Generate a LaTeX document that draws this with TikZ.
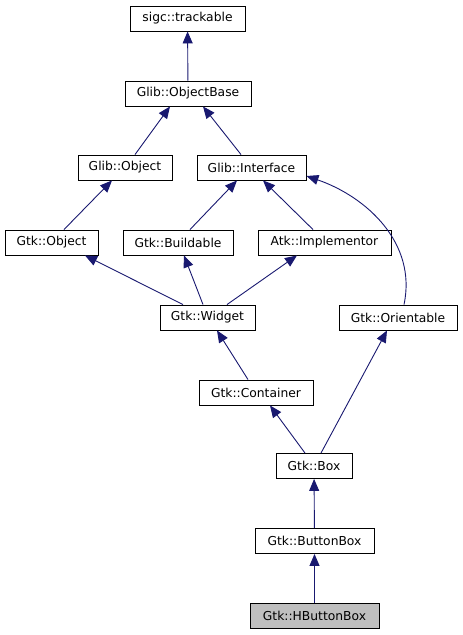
\documentclass[tikz,border=0pt]{standalone}
\usepackage{fontspec}
\setmainfont{DejaVu Sans}
\usepackage[dvipsnames]{xcolor}
\usepackage{tikz}
\usetikzlibrary{arrows.meta}
\definecolor{inhblue}{HTML}{191970}
\tikzset{
  cls/.style={draw=black, line width=0.9bp, fill=white, minimum height=25bp,
    inner sep=0pt, font=\fontsize{12.3bp}{14bp}\selectfont},
  inherit/.style={inhblue, line width=0.9bp, -{Triangle[width=10bp,length=12bp]}}
}
\begin{document}
\begin{tikzpicture}[x=1bp,y=-1bp]
\useasboundingbox (0,0) rectangle (463,635);
%CLASSES
\node[cls, minimum width=115bp] (track) at (187.5,18.5) {sigc::trackable};
\node[cls, minimum width=126bp] (objbase) at (188,93.5) {Glib::ObjectBase};
\node[cls, minimum width=94bp] (globj) at (125,167.5) {Glib::Object};
\node[cls, minimum width=109bp] (glint) at (251.5,167.5) {Glib::Interface};
\node[cls, minimum width=93bp] (gtkobj) at (51.5,242.5) {Gtk::Object};
\node[cls, minimum width=110bp] (buildable) at (178,242.5) {Gtk::Buildable};
\node[cls, minimum width=133bp] (implementor) at (324.5,242.5) {Atk::Implementor};
\node[cls, minimum width=95bp] (widget) at (207.5,317.5) {Gtk::Widget};
\node[cls, minimum width=118bp] (orientable) at (398,317.5) {Gtk::Orientable};
\node[cls, minimum width=114bp] (container) at (256,392.5) {Gtk::Container};
\node[cls, minimum width=76bp] (box) at (314,466) {Gtk::Box};
\node[cls, minimum width=119bp] (buttonbox) at (314.5,541) {Gtk::ButtonBox};
\node[cls, minimum width=129bp, fill=black!25] (hbuttonbox) at (314.5,616) {Gtk::HButtonBox};
%INHERITANCE
\draw[inherit] (objbase) -- (track);
\draw[inherit] ([xshift=10bp]globj.north) -- ([xshift=-18bp]objbase.south);
\draw[inherit] ([xshift=-10.5bp]glint.north) -- ([xshift=15bp]objbase.south);
\draw[inherit] ([xshift=12.5bp]gtkobj.north) -- ([xshift=-13bp]globj.south);
\draw[inherit] ([xshift=12bp]buildable.north) -- ([xshift=-14.5bp]glint.south);
\draw[inherit] ([xshift=-11.5bp]implementor.north) -- ([xshift=11.5bp]glint.south);
\draw[inherit] ([xshift=6bp]orientable.north) to[out=78,in=-19] ([yshift=-8.5bp]glint.east);
\draw[inherit] ([xshift=-24.5bp]widget.north) -- ([xshift=33.5bp]gtkobj.south);
\draw[inherit] ([xshift=-4.5bp]widget.north) -- ([xshift=6bp]buildable.south);
\draw[inherit] ([xshift=19.5bp]widget.north) -- ([xshift=-27.5bp]implementor.south);
\draw[inherit] ([xshift=-8bp]container.north) -- ([xshift=9.5bp]widget.south);
\draw[inherit] ([xshift=-9bp]box.north) -- ([xshift=14bp]container.south);
\draw[inherit] ([xshift=7bp]box.north) -- ([xshift=-11bp]orientable.south);
\draw[inherit] (buttonbox) -- (box);
\draw[inherit] (hbuttonbox) -- (buttonbox);
\end{tikzpicture}
\end{document}
